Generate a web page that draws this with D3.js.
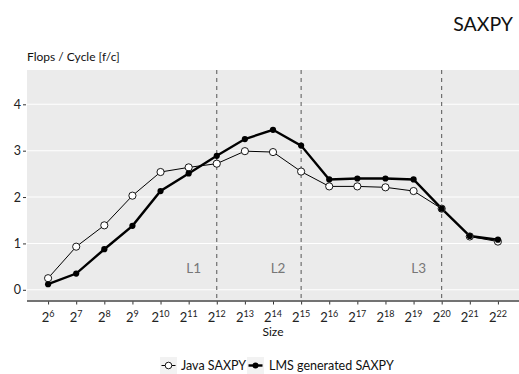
<!DOCTYPE html>
<html>
<head>
<meta charset="utf-8">
<script src="https://cdn.jsdelivr.net/npm/d3@7"></script>
<style>
  html, body { margin: 0; padding: 0; background: #fff; }
  svg { display: block; font-family: Lato, "Open Sans", sans-serif; }
</style>
</head>
<body>
<svg id="chart" width="519" height="374"></svg>
<script>
// Problem sizes as powers of two
const exponents = [6, 7, 8, 9, 10, 11, 12, 13, 14, 15, 16, 17, 18, 19, 20, 21, 22];
// Flops per cycle
const javaSaxpy = [0.25, 0.93, 1.39, 2.03, 2.54, 2.64, 2.72, 2.99, 2.97, 2.55, 2.23, 2.23, 2.21, 2.13, 1.75, 1.15, 1.04];
const lmsSaxpy  = [0.12, 0.35, 0.875, 1.38, 2.13, 2.51, 2.89, 3.25, 3.45, 3.11, 2.38, 2.40, 2.40, 2.38, 1.75, 1.16, 1.08];
const yTicks = [0, 1, 2, 3, 4];
// Cache boundaries
const cacheLines = [
  { exp: 12, label: "L1" },
  { exp: 15, label: "L2" },
  { exp: 20, label: "L3" }
];
const seriesNames = ["Java SAXPY", "LMS generated SAXPY"];

const svg = d3.select("#chart");
const panel = { left: 27, right: 519, top: 70, bottom: 300 };

const x = d3.scaleLinear().domain([6 - 0.75, 22 + 0.75]).range([panel.left, panel.right]);
const y = d3.scaleLinear().domain([-0.22, 4.74]).range([panel.bottom, panel.top]);

// Title
svg.append("text").attr("x", 513).attr("y", 31).attr("text-anchor", "end")
  .attr("font-size", 19.5).attr("fill", "#111").text("SAXPY");

// Y axis title
svg.append("text").attr("x", 27).attr("y", 61).attr("font-size", 12).attr("fill", "#111")
  .text("Flops / Cycle [f/c]");

// Panel background
svg.append("rect").attr("x", panel.left).attr("y", panel.top)
  .attr("width", panel.right - panel.left).attr("height", panel.bottom - panel.top)
  .attr("fill", "#EBEBEB");

// Horizontal grid
svg.append("g").selectAll("line").data(yTicks).join("line")
  .attr("x1", panel.left).attr("x2", panel.right)
  .attr("y1", d => y(d)).attr("y2", d => y(d))
  .attr("stroke", "#fff").attr("stroke-width", 1.1);

// Y axis ticks and labels
const yAxis = d3.axisLeft(y).tickValues(yTicks).tickSize(3).tickPadding(2).tickFormat(d3.format("d"));
const gy = svg.append("g").attr("transform", `translate(${panel.left - 1},0)`).call(yAxis);
gy.select(".domain").remove();
gy.selectAll(".tick line").attr("stroke", "#333");
gy.selectAll(".tick text").attr("font-size", 12.5).attr("fill", "#222").attr("font-family", "Lato, sans-serif");

// X axis line
svg.append("line").attr("x1", panel.left).attr("x2", panel.right)
  .attr("y1", panel.bottom + 1).attr("y2", panel.bottom + 1)
  .attr("stroke", "#444").attr("stroke-width", 1.6);

// X axis ticks and labels
const xAxis = d3.axisBottom(x).tickValues(exponents).tickSize(3).tickFormat("");
const gx = svg.append("g").attr("transform", `translate(0,${panel.bottom + 1.5})`).call(xAxis);
gx.select(".domain").remove();
gx.selectAll(".tick line").attr("stroke", "#333");
const xl = svg.append("g").selectAll("text").data(exponents).join("text")
  .attr("x", d => x(d)).attr("y", 322).attr("text-anchor", "middle")
  .attr("fill", "#222");
xl.append("tspan").attr("font-size", 13).text("2");
xl.append("tspan").attr("font-size", 9).attr("dy", -5).text(d => d);

// X axis title
svg.append("text").attr("x", (panel.left + panel.right) / 2).attr("y", 336)
  .attr("text-anchor", "middle").attr("font-size", 12).attr("fill", "#111").text("Size");

// Cache boundary markers
svg.append("g").selectAll("line").data(cacheLines).join("line")
  .attr("x1", d => x(d.exp)).attr("x2", d => x(d.exp))
  .attr("y1", panel.top).attr("y2", panel.bottom)
  .attr("stroke", "#555").attr("stroke-width", 1).attr("stroke-dasharray", "4,4");
svg.append("g").selectAll("text").data(cacheLines).join("text")
  .attr("x", d => x(d.exp - 0.82)).attr("y", 273).attr("text-anchor", "middle")
  .attr("font-size", 13.5).attr("fill", "#777").text(d => d.label);

// Lines
const line = d3.line().x((d, i) => x(exponents[i])).y(d => y(d));
svg.append("path").datum(javaSaxpy).attr("d", line)
  .attr("fill", "none").attr("stroke", "#000").attr("stroke-width", 1);
svg.append("path").datum(lmsSaxpy).attr("d", line)
  .attr("fill", "none").attr("stroke", "#000").attr("stroke-width", 2.4);

// Points
svg.append("g").selectAll("circle").data(javaSaxpy).join("circle")
  .attr("cx", (d, i) => x(exponents[i])).attr("cy", d => y(d)).attr("r", 3.6)
  .attr("fill", "#fff").attr("stroke", "#000").attr("stroke-width", 0.9);
svg.append("g").selectAll("circle").data(lmsSaxpy).join("circle")
  .attr("cx", (d, i) => x(exponents[i])).attr("cy", d => y(d)).attr("r", 3.1)
  .attr("fill", "#000");

// Legend
const legend = svg.append("g");
const keys = [
  { name: seriesNames[0], kx: 160, tx: 181, open: true },
  { name: seriesNames[1], kx: 247, tx: 269, open: false }
];
keys.forEach(k => {
  legend.append("rect").attr("x", k.kx).attr("y", 357).attr("width", 17).attr("height", 17)
    .attr("fill", "#F2F2F2");
  legend.append("line").attr("x1", k.kx + 1.5).attr("x2", k.kx + 15.5)
    .attr("y1", 365.5).attr("y2", 365.5).attr("stroke", "#000")
    .attr("stroke-width", k.open ? 1 : 2.4);
  legend.append("circle").attr("cx", k.kx + 8.5).attr("cy", 365.5).attr("r", k.open ? 3.3 : 3)
    .attr("fill", k.open ? "#fff" : "#000").attr("stroke", "#000").attr("stroke-width", k.open ? 0.9 : 0);
  legend.append("text").attr("x", k.tx).attr("y", 370).attr("font-size", 12.5)
    .attr("fill", "#111").text(k.name);
});
</script>
</body>
</html>
